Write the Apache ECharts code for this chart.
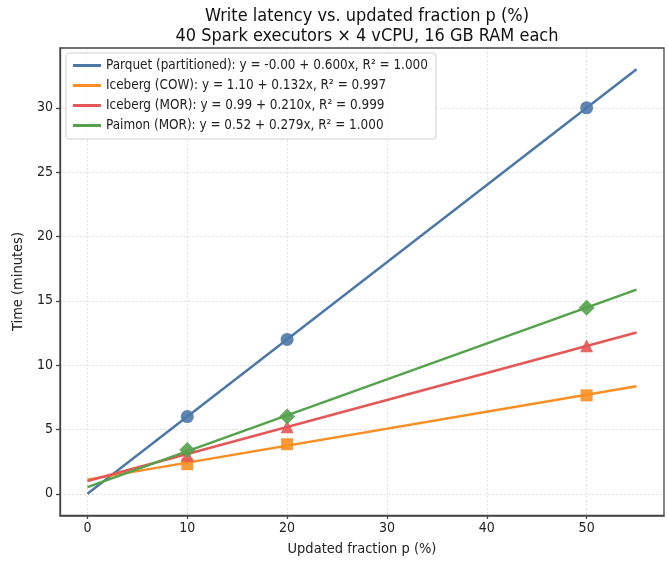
<!DOCTYPE html>
<html>
<head>
<meta charset="utf-8">
<script src="https://cdn.jsdelivr.net/npm/echarts@6/dist/echarts.min.js"></script>
<style>
  html, body { margin: 0; padding: 0; background: #fff; }
  #chart { width: 668px; height: 562px; }
</style>
</head>
<body>
<div id="chart"></div>
<script>
// measured points (p in %, time in minutes)
const pValues = [10, 20, 50]
const parquetPts = [6.0, 12.0, 30.0]
const cowPts = [2.3, 3.85, 7.65]
const morPts = [3.0, 5.2, 11.5]
const paimonPts = [3.4, 6.0, 14.45]

// fitted lines, drawn from p = 0 to p = 55
const fitX = [0, 55]
const parquetFit = [0.0, 33.0]
const cowFit = [1.10, 8.36]
const morFit = [0.99, 12.54]
const paimonFit = [0.52, 15.87]

const seriesNames = [
  'Parquet (partitioned): y = -0.00 + 0.600x, R² = 1.000',
  'Iceberg (COW): y = 1.10 + 0.132x, R² = 0.997',
  'Iceberg (MOR): y = 0.99 + 0.210x, R² = 0.999',
  'Paimon (MOR): y = 0.52 + 0.279x, R² = 1.000'
]
const colors = ['#4c78a8', '#f98f22', '#e45756', '#54a24b']
const symbols = ['circle', 'rect', 'triangle', 'diamond']
const symbolSizes = [13, 12, 13, 16]

const xTicks = [0, 10, 20, 30, 40, 50]
const yTicks = [0, 5, 10, 15, 20, 25, 30]

const FONT = "'DejaVu Sans Condensed', 'DejaVu Sans', sans-serif"

const chart = echarts.init(document.getElementById('chart'), null, { renderer: 'canvas' })

const fits = [parquetFit, cowFit, morFit, paimonFit]
const pts = [parquetPts, cowPts, morPts, paimonPts]

const series = []
fits.forEach((f, i) => {
  series.push({
    name: seriesNames[i],
    type: 'line',
    data: fitX.map((x, k) => [x, f[k]]),
    showSymbol: false,
    symbol: 'none',
    lineStyle: { color: colors[i], width: 2.5 },
    itemStyle: { color: colors[i] },
    z: 2
  })
})
pts.forEach((p, i) => {
  series.push({
    type: 'scatter',
    data: pValues.map((x, k) => [x, p[k]]),
    symbol: symbols[i],
    symbolSize: symbolSizes[i],
    itemStyle: { color: colors[i], opacity: 0.9 },
    z: 3
  })
})

const axisLineStyle = { color: '#444', width: 1.3 }
const labelStyle = { color: '#222', fontSize: 14, fontFamily: FONT }

chart.setOption({
  animation: false,
  backgroundColor: '#fff',
  title: {
    text: 'Write latency vs. updated fraction p (%)\n40 Spark executors × 4 vCPU, 16 GB RAM each',
    left: 362,
    top: 1,
    textAlign: 'center',
    textStyle: {
      fontFamily: FONT,
      fontSize: 18,
      fontWeight: 'normal',
      color: '#111',
      lineHeight: 20
    }
  },
  legend: {
    data: seriesNames,
    orient: 'vertical',
    left: 66,
    top: 53,
    padding: [5, 8, 6, 7],
    itemGap: 5,
    itemWidth: 28,
    itemHeight: 3,
    icon: 'rect',
    backgroundColor: 'rgba(255,255,255,0.85)',
    borderColor: '#d0d0d0',
    borderWidth: 1,
    borderRadius: 3,
    textStyle: { fontFamily: FONT, fontSize: 13.4, color: '#222', lineHeight: 15 }
  },
  grid: { left: 60, right: 4, top: 48, bottom: 46, containLabel: false },
  xAxis: {
    type: 'value',
    min: -2.75,
    max: 57.75,
    name: 'Updated fraction p (%)',
    nameLocation: 'middle',
    nameGap: 27,
    nameTextStyle: { fontFamily: FONT, fontSize: 14.5, color: '#222' },
    axisLine: { show: true, onZero: false, lineStyle: axisLineStyle },
    axisTick: { show: true, length: 4, customValues: xTicks, lineStyle: axisLineStyle },
    axisLabel: { customValues: xTicks, margin: 6, ...labelStyle },
    splitLine: { show: true, lineStyle: { color: '#dcdcdc', type: [2, 2], width: 0.8 } }
  },
  yAxis: {
    type: 'value',
    min: -1.65,
    max: 34.65,
    name: 'Time (minutes)',
    nameLocation: 'middle',
    nameGap: 30,
    nameTextStyle: { fontFamily: FONT, fontSize: 14.5, color: '#222' },
    axisLine: { show: true, onZero: false, lineStyle: axisLineStyle },
    axisTick: { show: true, length: 4, customValues: yTicks, lineStyle: axisLineStyle },
    axisLabel: { customValues: yTicks, margin: 7, ...labelStyle },
    splitLine: { show: true, lineStyle: { color: '#dcdcdc', type: [2, 2], width: 0.8 } }
  },
  graphic: [
    {
      type: 'rect',
      shape: { x: 60, y: 48, width: 604, height: 468 },
      style: { fill: 'none', stroke: '#444', lineWidth: 1.3 },
      silent: true,
      z: 10
    }
  ],
  series: series
})
</script>
</body>
</html>
